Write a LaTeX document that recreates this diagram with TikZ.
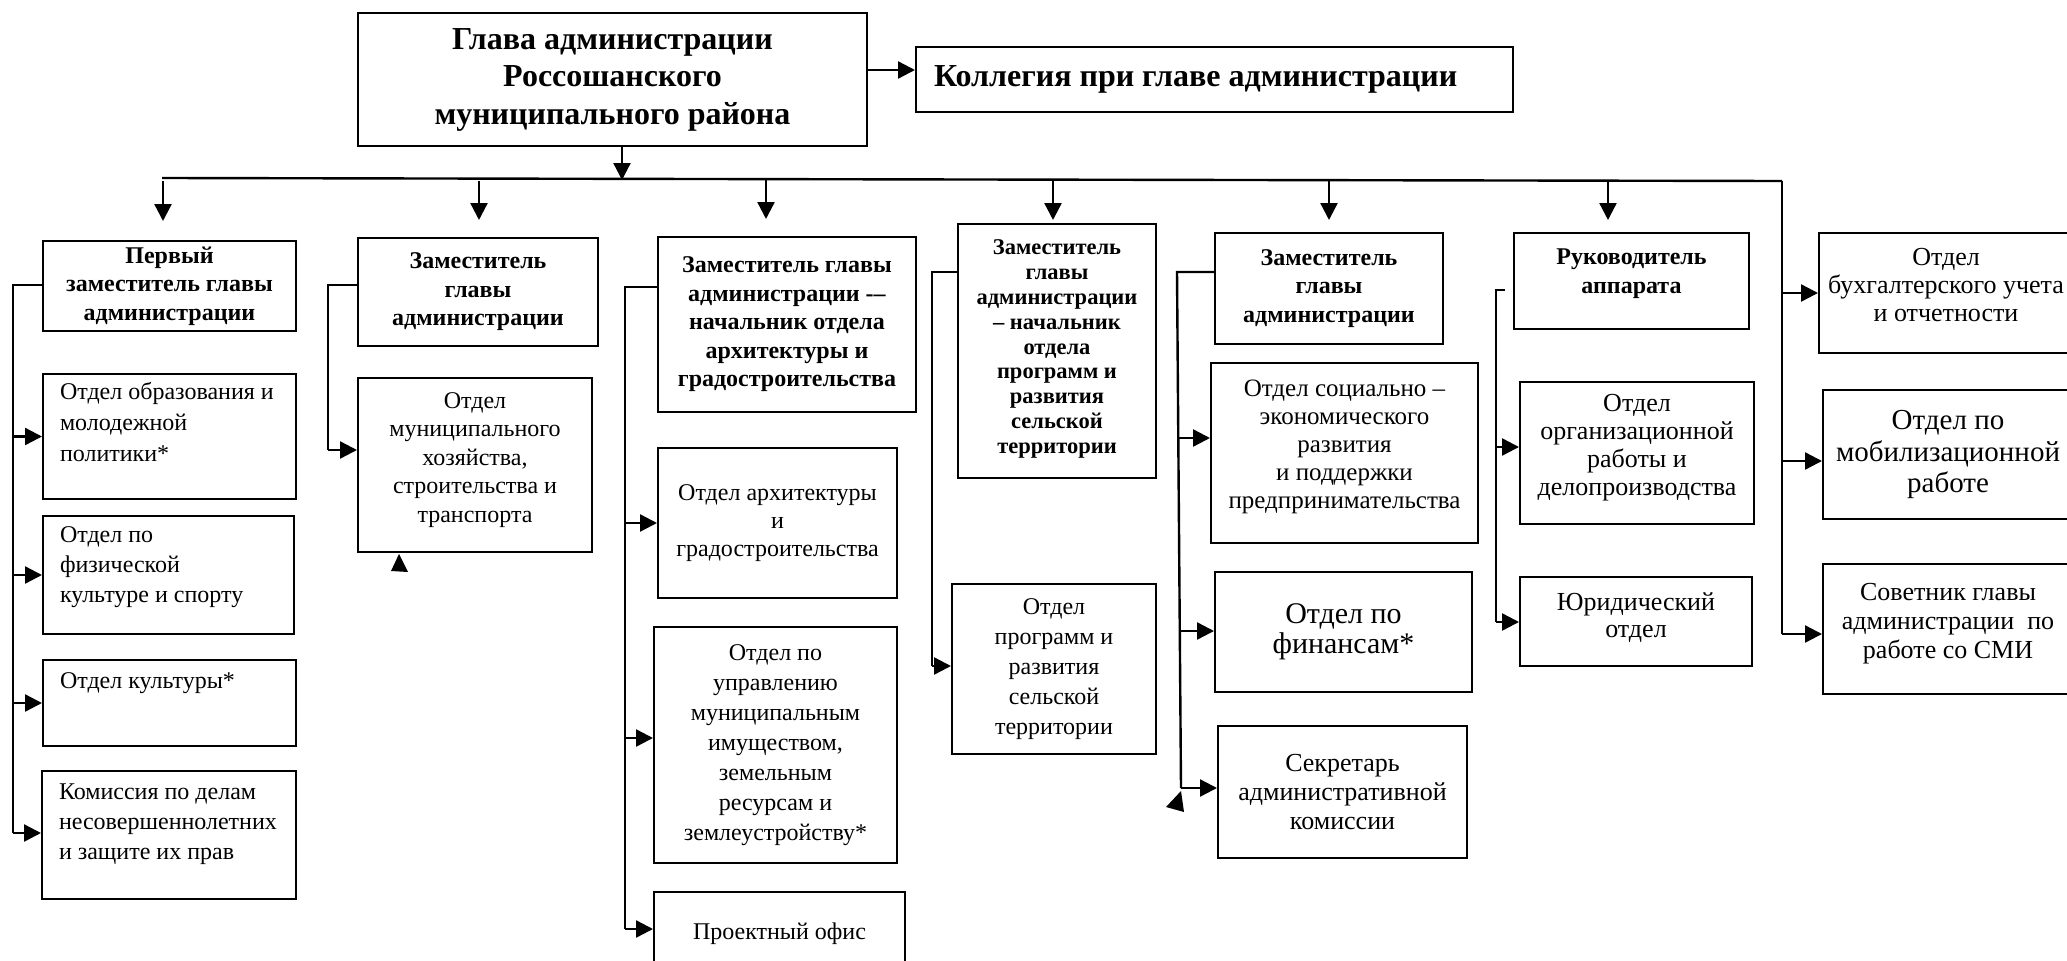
\documentclass[tikz,border=0pt]{standalone}
\usepackage{fontspec}
\setmainfont{Liberation Serif}
\usetikzlibrary{arrows.meta}
\newcommand\fhead{\fontsize{32}{37.5}\selectfont\bfseries}
\newcommand\fhdr{\fontsize{24}{28.5}\selectfont\bfseries}
\newcommand\fhdrs{\fontsize{22.5}{24.8}\selectfont\bfseries}
\newcommand\freg[2]{\fontsize{#1}{#2}\selectfont}
\newcommand\bx[8]{\node[box,#6] (#1) at (#2,#3) {\parbox[c][\dimexpr #5pt-#3pt\relax][#7]{\dimexpr #4pt-#2pt\relax}{#8}};}
\tikzset{
  box/.style={draw, line width=2pt, inner sep=0pt, anchor=north west},
  conn/.style={line width=2.4pt},
  arr/.style={line width=2.4pt, -{Triangle[length=17pt,width=17pt]}},
}
\begin{document}
\begin{tikzpicture}[x=1pt,y=-1pt]
\useasboundingbox (0,0) rectangle (2067,961);
\fill[white] (0,0) rectangle (2067,961);

% top
\bx{head}{357}{12}{866}{145}{font=\fhead}{c}{\centering Глава администрации\\ Россошанского\\ муниципального района}
\bx{koll}{915}{46}{1512}{111}{font=\fhead}{c}{\hspace*{18pt}Коллегия при главе администрации}

% column headers
\bx{p1}{42}{240}{295}{330}{font=\fhdr}{c}{\centering Первый\\ заместитель главы\\ администрации}
\bx{p2}{357}{237}{597}{345}{font=\fhdr}{c}{\centering Заместитель\\ главы\\ администрации}
\bx{p3}{657}{236}{915}{411}{font=\fhdr}{c}{\centering Заместитель главы\\ администрации -–\\ начальник отдела\\ архитектуры и\\ градостроительства}
\bx{p4}{957}{223}{1155}{477}{font=\fhdrs}{c}{\centering Заместитель\\ главы\\ администрации\\ – начальник\\ отдела\\ программ и\\ развития\\ сельской\\ территории\\[4pt]}
\bx{p5}{1214}{232}{1442}{343}{font=\fhdr}{c}{\centering Заместитель\\ главы\\ администрации}
\bx{p6}{1513}{232}{1748}{328}{font=\fhdr}{t}{\centering\vspace*{16pt}Руководитель\\ аппарата}

% column 1
\bx{o11}{42}{373}{295}{498}{font={\freg{24}{31}}}{t}{\raggedright\leftskip=17pt\vspace*{8pt}Отдел образования и\\ молодежной\\ политики*}
\bx{o12}{42}{515}{293}{633}{font={\freg{24}{30}}}{t}{\raggedright\leftskip=17pt\vspace*{11pt}Отдел по\\ физической\\ культуре и спорту}
\bx{o13}{42}{659}{295}{745}{font={\freg{24}{30}}}{t}{\raggedright\leftskip=17pt\vspace*{13pt}Отдел культуры*}
\bx{o14}{41}{770}{295}{898}{font={\freg{24}{30}}}{t}{\raggedright\leftskip=17pt\vspace*{13pt}Комиссия по делам\\ несовершеннолетних\\ и защите их прав}

% column 2
\bx{o21}{357}{377}{591}{551}{font={\freg{24}{28.5}}}{c}{\centering Отдел\\ муниципального\\ хозяйства,\\ строительства и\\ транспорта\\[10pt]}

% column 3
\bx{o31}{657}{447}{896}{597}{font={\freg{24}{28}}}{c}{\centering Отдел архитектуры\\ и\\ градостроительства}
\bx{o32}{653}{626}{896}{862}{font={\freg{24}{30}}}{c}{\centering Отдел по\\ управлению\\ муниципальным\\ имуществом,\\ земельным\\ ресурсам и\\ землеустройству*}
\bx{o33}{653}{891}{904}{975}{font={\freg{24}{30}}}{c}{\centering Проектный офис}

% column 4
\bx{o41}{951}{583}{1155}{753}{font={\freg{24}{30}}}{c}{\centering Отдел\\ программ и\\ развития\\ сельской\\ территории}

% column 5
\bx{o51}{1210}{362}{1477}{542}{font={\freg{25}{28}}}{c}{\centering Отдел социально –\\ экономического\\ развития\\ и поддержки\\ предпринимательства\\[12pt]}
\bx{o52}{1214}{571}{1471}{691}{font={\freg{30}{30.5}}}{c}{\centering Отдел по\\ финансам*}
\bx{o53}{1217}{725}{1466}{857}{font={\freg{26}{29}}}{c}{\centering Секретарь\\ административной\\ комиссии}

% column 6
\bx{o61}{1519}{381}{1753}{523}{font={\freg{26}{28}}}{c}{\centering Отдел\\ организационной\\ работы и\\ делопроизводства\\[10pt]}
\bx{o62}{1519}{576}{1751}{665}{font={\freg{26}{27.5}}}{c}{\centering Юридический\\ отдел\\[8pt]}

% right column
\bx{r1}{1818}{232}{2072}{352}{font={\freg{26}{28}}}{c}{\centering Отдел\\ бухгалтерского учета\\ и отчетности\\[16pt]}
\bx{r2}{1822}{389}{2072}{518}{font={\freg{29}{31.5}}}{c}{\centering Отдел по\\ мобилизационной\\ работе}
\bx{r3}{1822}{563}{2072}{693}{font={\freg{26}{29}}}{c}{\centering Советник главы\\ администрации\ \ по\\ работе со СМИ\\[10pt]}

% head connectors
\coordinate (hk) at (866,70);
\draw[arr] (hk) -- (hk -| koll.west);
\coordinate (bl) at (162,178);
\coordinate (br) at (1782,181);
\draw[conn] (bl) -- (br);
\coordinate (hb) at (622,180);
\draw[arr] (head.south -| hb) -- (hb);

% down arrows
\coordinate (d1) at (163,181);
\coordinate (d2) at (479,181);
\coordinate (d3) at (766,180);
\coordinate (d4) at (1053,180);
\coordinate (d5) at (1329,180);
\coordinate (d6) at (1608,181);
\draw[arr, shorten >=19pt] (d1) -- (d1 |- p1.north);
\draw[arr, shorten >=17pt] (d2) -- (d2 |- p2.north);
\draw[arr, shorten >=17pt] (d3) -- (d3 |- p3.north);
\draw[arr, shorten >=3pt] (d4) -- (d4 |- p4.north);
\draw[arr, shorten >=12pt] (d5) -- (d5 |- p5.north);
\draw[arr, shorten >=12pt] (d6) -- (d6 |- p6.north);

% column 1 tree
\coordinate (c1t) at (13,285);
\coordinate (c1b) at (13,833);
\draw[conn] (c1t -| p1.west) -- (c1t) -- (c1b);
\draw[arr] (c1t |- o11.west) -- (o11.west);
\draw[arr] (c1t |- o12.west) -- (o12.west);
\draw[arr] (c1t |- o13.west) -- (o13.west);
\draw[arr] (c1b) -- (c1b -| o14.west);

% column 2 tree
\coordinate (c2t) at (328,285);
\coordinate (c2b) at (328,450);
\draw[conn] (c2t -| p2.west) -- (c2t) -- (c2b);
\draw[arr] (c2b) -- (c2b -| o21.west);
\fill (391,571) -- (399,554) -- (408,572) -- cycle;

% column 3 tree
\coordinate (c3t) at (625,287);
\coordinate (c3a) at (625,523);
\coordinate (c3m) at (625,738);
\coordinate (c3b) at (625,929);
\draw[conn] (c3t -| p3.west) -- (c3t) -- (c3b);
\draw[arr] (c3a) -- (c3a -| o31.west);
\draw[arr] (c3m) -- (c3m -| o32.west);
\draw[arr] (c3b) -- (c3b -| o33.west);

% column 4 tree
\coordinate (c4t) at (932,272);
\coordinate (c4b) at (932,666);
\draw[conn] (c4t -| p4.west) -- (c4t) -- (c4b);
\draw[arr] (c4b) -- (c4b -| o41.west);

% column 5 tree
\coordinate (c5t) at (1177,272);
\coordinate (c5a) at (1179,438);
\coordinate (c5m) at (1180,631);
\coordinate (c5b) at (1181,788);
\draw[conn] (c5t -| p5.west) -- (c5t) -- (c5b);
\draw[arr] (c5a) -- (c5a -| o51.west);
\draw[arr] (c5m) -- (c5m -| o52.west);
\draw[arr] (c5b) -- (c5b -| o53.west);
\fill (1166,807) -- (1181,791) -- (1184,812) -- cycle;

% column 6 tree
\coordinate (c6t) at (1496,290);
\coordinate (c6k) at (1505,290);
\coordinate (c6a) at (1496,447);
\coordinate (c6b) at (1496,622);
\draw[conn] (c6k) -- (c6t) -- (c6b);
\draw[arr] (c6a) -- (c6a -| o61.west);
\draw[arr] (c6b) -- (c6b -| o62.west);

% right column tree
\coordinate (c7m) at (1782,461);
\coordinate (c7b) at (1782,634);
\draw[conn] (br) -- (c7b);
\draw[arr] (br |- r1.west) -- (r1.west);
\draw[arr] (c7m) -- (c7m -| r2.west);
\draw[arr] (c7b) -- (c7b -| r3.west);
\end{tikzpicture}
\end{document}
